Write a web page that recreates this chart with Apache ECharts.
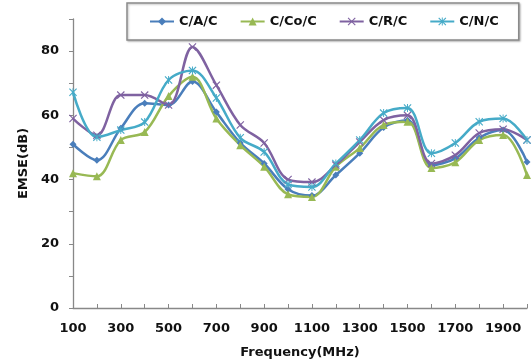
<!DOCTYPE html>
<html>
<head>
<meta charset="utf-8">
<script src="https://cdn.jsdelivr.net/npm/echarts@6/dist/echarts.min.js"></script>
<style>
  html, body { margin: 0; padding: 0; background: #fff; }
  #chart { width: 531px; height: 364px; }
</style>
</head>
<body>
<div id="chart"></div>
<script>
// frequencies (MHz)
const freqs = [100, 200, 300, 400, 500, 600, 700, 800, 900, 1000,
  1100, 1200, 1300, 1400, 1500, 1600, 1700, 1800, 1900, 2000];

// EMSE (dB)
const cac = [51, 46, 56, 63.8, 63.2, 70.5, 61, 51.4, 45, 37,
  35, 41.4, 48.2, 56.2, 58.5, 44.5, 46.6, 53, 55.4, 45.5];
const cococ = [42, 41, 52.3, 54.8, 66, 72, 59, 50.7, 44, 35.4,
  34.6, 44, 49.8, 57, 58, 43.6, 45.4, 52.3, 53.9, 41.4];
const crc = [59, 53.8, 66.3, 66.3, 63.2, 81.3, 69.4, 57, 51.4, 40,
  39.2, 44.5, 51.7, 58.5, 60, 45, 47.6, 54.5, 55.7, 52.3];
const cnc = [67.2, 53.2, 55.4, 57.9, 71, 74, 65.4, 53, 48.6, 38.5,
  37.7, 45, 52.3, 60.7, 62.3, 48.2, 51.4, 58, 59, 52.3];

const seriesNames = ["C/A/C", "C/Co/C", "C/R/C", "C/N/C"];

const xMark = "path://M0,1L1,0L5,4L9,0L10,1L6,5L10,9L9,10L5,6L1,10L0,9L4,5Z";
const starMark = xMark + "M4.4,0L5.6,0L5.6,10L4.4,10Z";

const font = "DejaVu Sans";

function makeSeries(name, values, color, symbol, size) {
  return {
    name: name,
    type: "line",
    smooth: 0.35,
    data: freqs.map((f, i) => [f, values[i]]),
    symbol: symbol,
    symbolSize: size,
    lineStyle: { width: 2.5, color: color },
    itemStyle: { color: color },
  };
}

const chart = echarts.init(document.getElementById("chart"));

const option = {
  animation: false,
  textStyle: { fontFamily: font },
  legend: {
    left: 127,
    top: 3,
    padding: [12, 20, 12, 22],
    itemWidth: 24,
    itemHeight: 10,
    itemGap: 22,
    borderColor: "#8a8a8a",
    borderWidth: 1.5,
    backgroundColor: "#fff",
    shadowColor: "rgba(0,0,0,0.25)",
    shadowBlur: 2,
    shadowOffsetX: 1,
    shadowOffsetY: 1,
    textStyle: { fontFamily: font, fontWeight: "bold", fontSize: 13, color: "#111" },
    data: seriesNames,
  },
  grid: {
    left: 73,
    right: 4,
    top: 19,
    bottom: 56,
  },
  xAxis: {
    type: "value",
    min: 100,
    max: 2000,
    interval: 100,
    name: "Frequency(MHz)",
    nameLocation: "middle",
    nameGap: 38,
    nameTextStyle: { fontFamily: font, fontWeight: "bold", fontSize: 13, color: "#111" },
    axisLine: { lineStyle: { color: "#888", width: 1.3 } },
    axisTick: { inside: true, length: 4, lineStyle: { color: "#888" } },
    splitLine: { show: false },
    axisLabel: {
      fontFamily: font,
      fontWeight: "bold",
      fontSize: 13,
      color: "#111",
      margin: 14,
      formatter: (v) => ((v - 100) % 200 === 0 && v < 2000 ? String(v) : ""),
    },
  },
  yAxis: {
    type: "value",
    min: 0,
    max: 90,
    interval: 10,
    name: "EMSE(dB)",
    nameLocation: "middle",
    nameGap: 40,
    nameTextStyle: { fontFamily: font, fontWeight: "bold", fontSize: 13, color: "#111" },
    axisLine: { show: true, lineStyle: { color: "#888", width: 1.3 } },
    axisTick: { show: true, length: 4, lineStyle: { color: "#888" } },
    splitLine: { show: false },
    axisLabel: {
      fontFamily: font,
      fontWeight: "bold",
      fontSize: 13,
      color: "#111",
      margin: 14,
      formatter: (v) => (v % 20 === 0 ? String(v) : ""),
    },
  },
  series: [
    makeSeries(seriesNames[0], cac, "#4a7ebb", "diamond", 7),
    makeSeries(seriesNames[1], cococ, "#98b954", "triangle", 8),
    makeSeries(seriesNames[2], crc, "#7f62a1", xMark, 8),
    makeSeries(seriesNames[3], cnc, "#46abc8", starMark, 8),
  ],
};

chart.setOption(option);
</script>
</body>
</html>
